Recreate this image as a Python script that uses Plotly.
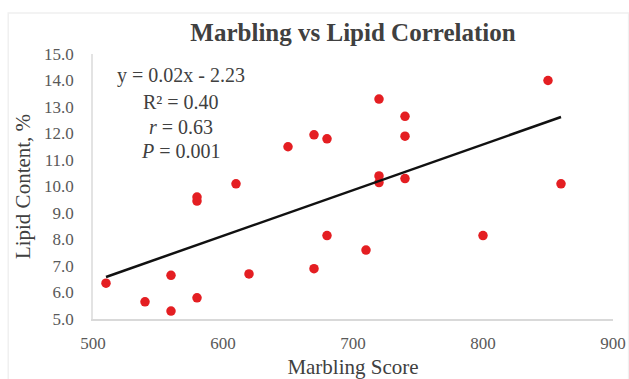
import numpy as np
import plotly.graph_objects as go

# Data
marbling = [510, 540, 560, 560, 580, 580, 580, 610, 620, 650, 670, 670,
            680, 680, 710, 720, 720, 720, 740, 740, 740, 800, 850, 860]
lipid = [6.35, 5.65, 5.3, 6.65, 5.8, 9.45, 9.6, 10.1, 6.7, 11.5, 6.9, 11.95,
         8.15, 11.8, 7.6, 10.15, 10.4, 13.3, 10.3, 11.9, 12.65, 8.15, 14.0, 10.1]

stats_lines = ["y = 0.02x - 2.23", "R² = 0.40", "<i>r</i> = 0.63", "<i>P</i> = 0.001"]
stats_y = [14.18, 13.2, 12.25, 11.33]

x_ticks = [500, 600, 700, 800, 900]
y_ticks = [5, 6, 7, 8, 9, 10, 11, 12, 13, 14, 15]

# Linear trendline computed from the data
slope, intercept = np.polyfit(marbling, lipid, 1)
tx = np.array([min(marbling), max(marbling)])
ty = slope * tx + intercept

FONT = "Liberation Serif, Times New Roman, serif"

fig = go.Figure()
fig.add_trace(go.Scatter(
    x=marbling, y=lipid, mode="markers",
    marker=dict(color="#e41e22", size=9.5, line=dict(width=0)),
    showlegend=False, cliponaxis=False,
))
fig.add_trace(go.Scatter(
    x=tx, y=ty, mode="lines",
    line=dict(color="#111111", width=2.5),
    showlegend=False,
))

for txt, yv in zip(stats_lines, stats_y):
    fig.add_annotation(x=568, y=yv, xref="x", yref="y", text=txt, showarrow=False,
                       xanchor="center", yanchor="middle",
                       font=dict(family=FONT, size=20, color="#404040"))

# faint outer chart border (left, top, right edges)
fig.add_shape(type="rect", xref="paper", yref="paper",
              x0=-0.163, x1=1.03, y0=-0.4, y1=1.155,
              line=dict(color="#f0f0f0", width=1.5), fillcolor="rgba(0,0,0,0)", layer="below")

fig.update_layout(
    width=629, height=379,
    margin=dict(l=93, r=16, t=54, b=60, autoexpand=False),
    paper_bgcolor="white", plot_bgcolor="white",
    title=dict(text="<b>Marbling vs Lipid Correlation</b>", x=0.5, xref="paper",
               y=1 - 32 / 379, yref="container", xanchor="center", yanchor="middle",
               font=dict(family=FONT, size=25, color="#404040")),
    font=dict(family=FONT, color="#595959"),
)
fig.update_xaxes(
    range=[500, 900], tickvals=x_ticks, ticktext=[str(v) for v in x_ticks],
    showgrid=False, zeroline=False, showline=True, linecolor="#d9d9d9", linewidth=1.5,
    ticks="", tickfont=dict(family=FONT, size=17, color="#595959"), ticklabelstandoff=8,
    automargin=False,
    title=dict(text="Marbling Score", font=dict(family=FONT, size=21, color="#404040"), standoff=22),
)
fig.update_yaxes(
    range=[5, 15], tickvals=y_ticks, ticktext=[f"{v:.1f}" for v in y_ticks],
    showgrid=False, zeroline=False, showline=True, linecolor="#e3e3e3", linewidth=1.5,
    ticks="", tickfont=dict(family=FONT, size=17, color="#595959"), ticklabelstandoff=14,
    automargin=False,
    title=dict(text="Lipid Content, %", font=dict(family=FONT, size=21, color="#404040"), standoff=8),
)

fig.write_html("out.html")
